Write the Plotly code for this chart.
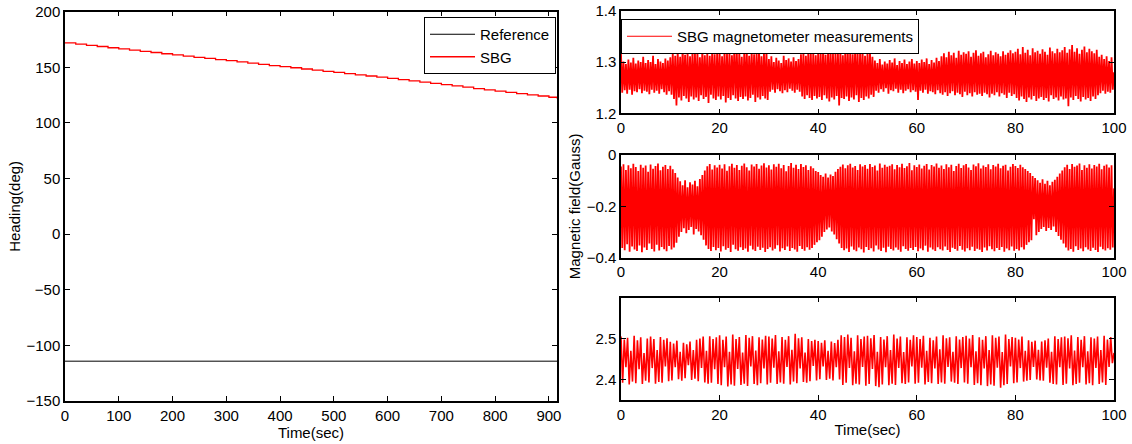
import numpy as np
import plotly.graph_objects as go

# ---------------- data ----------------
heading_time = [0, 20, 40, 60, 80, 100, 120, 140, 160, 180, 200, 220, 240, 260, 280, 300,
                320, 340, 360, 380, 400, 420, 440, 460, 480, 500, 520, 540, 560, 580, 600,
                620, 640, 660, 680, 700, 720, 740, 760, 780, 800, 820, 840, 860, 880, 900, 915]
heading_sbg = [172.0, 170.9, 169.8, 168.7, 167.6, 166.6, 165.5, 164.4, 163.3, 162.2, 161.1,
               160.1, 159.0, 158.0, 157.0, 156.0, 154.9, 153.8, 152.7, 151.6, 150.6, 149.6,
               148.5, 147.5, 146.4, 145.4, 144.3, 143.2, 142.2, 141.1, 140.0, 138.9, 137.8,
               136.7, 135.6, 134.5, 133.3, 132.1, 130.9, 129.7, 128.6, 127.5, 126.4, 125.3,
               124.2, 123.1, 122.0]
reference_time = [0, 915]
reference_heading = [-114.2, -114.2]

# magnetometer X (samples every 0.25 s, 0..100 s)
mag_x = [
    1.316, 1.240, 1.301, 1.245, 1.296, 1.238, 1.305, 1.246, 1.299, 1.236, 1.308, 1.243, 1.297, 1.241, 1.303, 1.247, 1.300, 1.239, 1.310, 1.244,
    1.298, 1.242, 1.304, 1.237, 1.300, 1.246, 1.312, 1.240, 1.296, 1.244, 1.306, 1.238, 1.301, 1.247, 1.298, 1.241, 1.307, 1.236, 1.303, 1.243,
    1.309, 1.236, 1.318, 1.228, 1.312, 1.215, 1.322, 1.231, 1.310, 1.225, 1.329, 1.234, 1.314, 1.229, 1.320, 1.222, 1.311, 1.233, 1.324, 1.227,
    1.316, 1.231, 1.321, 1.224, 1.309, 1.235, 1.326, 1.228, 1.313, 1.232, 1.319, 1.220, 1.312, 1.236, 1.323, 1.229, 1.315, 1.226, 1.318, 1.233,
    1.322, 1.227, 1.311, 1.234, 1.325, 1.221, 1.316, 1.230, 1.320, 1.226, 1.313, 1.235, 1.334, 1.229, 1.317, 1.224, 1.321, 1.232, 1.310, 1.228,
    1.319, 1.233, 1.326, 1.225, 1.312, 1.230, 1.323, 1.236, 1.315, 1.222, 1.320, 1.231, 1.327, 1.227, 1.311, 1.234, 1.318, 1.229, 1.324, 1.226,
    1.306, 1.242, 1.311, 1.246, 1.300, 1.240, 1.308, 1.247, 1.303, 1.243, 1.298, 1.239, 1.312, 1.245, 1.304, 1.241, 1.307, 1.248, 1.301, 1.244,
    1.309, 1.240, 1.302, 1.246, 1.306, 1.242, 1.315, 1.233, 1.320, 1.228, 1.312, 1.235, 1.324, 1.230, 1.316, 1.226, 1.319, 1.234, 1.313, 1.229,
    1.322, 1.232, 1.317, 1.226, 1.326, 1.235, 1.314, 1.229, 1.320, 1.223, 1.328, 1.231, 1.316, 1.227, 1.321, 1.234, 1.318, 1.215, 1.325, 1.230,
    1.313, 1.228, 1.327, 1.233, 1.319, 1.224, 1.322, 1.231, 1.315, 1.227, 1.329, 1.235, 1.317, 1.222, 1.320, 1.230, 1.324, 1.226, 1.312, 1.233,
    1.318, 1.229, 1.322, 1.236, 1.310, 1.232, 1.303, 1.244, 1.298, 1.240, 1.306, 1.247, 1.295, 1.242, 1.301, 1.249, 1.297, 1.238, 1.304, 1.245,
    1.299, 1.243, 1.307, 1.248, 1.294, 1.240, 1.302, 1.246, 1.298, 1.239, 1.305, 1.244, 1.296, 1.247, 1.301, 1.241, 1.306, 1.245, 1.297, 1.242,
    1.302, 1.226, 1.298, 1.244, 1.305, 1.240, 1.300, 1.246, 1.307, 1.238, 1.296, 1.243, 1.304, 1.241, 1.299, 1.237, 1.308, 1.245, 1.302, 1.239,
    1.311, 1.236, 1.317, 1.241, 1.309, 1.234, 1.320, 1.239, 1.313, 1.243, 1.318, 1.235, 1.308, 1.240, 1.322, 1.237, 1.314, 1.232, 1.319, 1.242,
    1.316, 1.235, 1.321, 1.239, 1.310, 1.233, 1.318, 1.241, 1.323, 1.236, 1.312, 1.238, 1.317, 1.234, 1.320, 1.240, 1.309, 1.237, 1.315, 1.231,
    1.322, 1.238, 1.313, 1.235, 1.319, 1.241, 1.316, 1.233, 1.311, 1.239, 1.321, 1.236, 1.314, 1.230, 1.318, 1.240, 1.323, 1.234, 1.317, 1.237,
    1.320, 1.230, 1.326, 1.225, 1.315, 1.233, 1.329, 1.228, 1.318, 1.222, 1.324, 1.231, 1.313, 1.227, 1.327, 1.234, 1.319, 1.224, 1.322, 1.229,
    1.316, 1.232, 1.325, 1.226, 1.320, 1.230, 1.314, 1.223, 1.328, 1.235, 1.321, 1.228, 1.317, 1.231, 1.326, 1.225, 1.319, 1.233, 1.323, 1.227,
    1.329, 1.229, 1.318, 1.214, 1.325, 1.231, 1.333, 1.226, 1.320, 1.234, 1.327, 1.228, 1.316, 1.223, 1.324, 1.232, 1.330, 1.227, 1.319, 1.230,
    1.326, 1.224, 1.321, 1.233, 1.317, 1.228, 1.324, 1.235, 1.310, 1.239, 1.314, 1.244, 1.306, 1.238, 1.311, 1.242, 1.302, 1.240, 1.309, 1.246,
    1.280]

# magnetometer Y (samples every 0.25 s, 0..100 s)
mag_y = [
    -0.045, -0.362, -0.036, -0.371, -0.058, -0.348, -0.040, -0.377, -0.052, -0.356, -0.034, -0.368, -0.047, -0.374, -0.062, -0.352, -0.038, -0.379, -0.050, -0.360,
    -0.041, -0.370, -0.065, -0.345, -0.037, -0.366, -0.054, -0.376, -0.043, -0.350, -0.033, -0.372, -0.059, -0.358, -0.046, -0.367, -0.039, -0.375, -0.055, -0.354,
    -0.042, -0.368, -0.056, -0.360, -0.070, -0.342, -0.088, -0.318, -0.102, -0.300, -0.118, -0.285, -0.098, -0.305, -0.126, -0.292, -0.106, -0.280, -0.115, -0.310,
    -0.100, -0.288, -0.122, -0.298, -0.094, -0.312, -0.078, -0.330, -0.060, -0.352, -0.044, -0.366, -0.035, -0.374, -0.057, -0.358, -0.040, -0.371, -0.049, -0.362,
    -0.038, -0.376, -0.053, -0.355, -0.036, -0.369, -0.061, -0.362, -0.044, -0.378, -0.034, -0.350, -0.050, -0.367, -0.039, -0.373, -0.058, -0.359, -0.042, -0.370,
    -0.033, -0.364, -0.048, -0.377, -0.060, -0.353, -0.037, -0.368, -0.045, -0.374, -0.035, -0.357, -0.054, -0.370, -0.041, -0.361, -0.032, -0.378, -0.049, -0.366,
    -0.040, -0.359, -0.057, -0.372, -0.036, -0.365, -0.046, -0.351, -0.034, -0.376, -0.052, -0.363, -0.039, -0.370, -0.063, -0.356, -0.043, -0.374, -0.031, -0.362,
    -0.050, -0.368, -0.038, -0.377, -0.055, -0.354, -0.035, -0.366, -0.047, -0.373, -0.040, -0.359, -0.058, -0.369, -0.044, -0.362, -0.052, -0.350, -0.062, -0.340,
    -0.066, -0.332, -0.078, -0.318, -0.085, -0.300, -0.072, -0.290, -0.088, -0.282, -0.076, -0.298, -0.082, -0.310, -0.065, -0.328, -0.055, -0.345, -0.046, -0.362,
    -0.037, -0.371, -0.052, -0.364, -0.040, -0.378, -0.034, -0.356, -0.049, -0.369, -0.043, -0.375, -0.058, -0.360, -0.036, -0.367, -0.045, -0.380, -0.039, -0.358,
    -0.054, -0.370, -0.035, -0.363, -0.047, -0.376, -0.041, -0.352, -0.060, -0.368, -0.033, -0.374, -0.050, -0.361, -0.038, -0.379, -0.046, -0.357, -0.042, -0.366,
    -0.036, -0.372, -0.056, -0.360, -0.039, -0.369, -0.048, -0.377, -0.034, -0.355, -0.051, -0.366, -0.044, -0.373, -0.031, -0.362, -0.059, -0.370, -0.040, -0.358,
    -0.047, -0.375, -0.037, -0.364, -0.053, -0.371, -0.042, -0.353, -0.035, -0.377, -0.057, -0.360, -0.039, -0.368, -0.045, -0.374, -0.033, -0.359, -0.050, -0.367,
    -0.041, -0.372, -0.055, -0.356, -0.036, -0.370, -0.048, -0.378, -0.038, -0.361, -0.062, -0.366, -0.043, -0.373, -0.034, -0.354, -0.051, -0.369, -0.040, -0.376,
    -0.035, -0.363, -0.049, -0.371, -0.058, -0.357, -0.037, -0.374, -0.044, -0.365, -0.032, -0.369, -0.053, -0.378, -0.041, -0.360, -0.047, -0.372, -0.036, -0.355,
    -0.056, -0.367, -0.039, -0.375, -0.045, -0.362, -0.034, -0.370, -0.052, -0.358, -0.042, -0.377, -0.038, -0.364, -0.060, -0.371, -0.046, -0.356, -0.035, -0.373,
    -0.043, -0.366, -0.051, -0.372, -0.038, -0.359, -0.048, -0.368, -0.055, -0.350, -0.062, -0.340, -0.070, -0.332, -0.082, -0.250, -0.090, -0.312, -0.098, -0.300,
    -0.108, -0.288, -0.095, -0.280, -0.112, -0.296, -0.100, -0.284, -0.118, -0.292, -0.104, -0.278, -0.096, -0.300, -0.085, -0.315, -0.072, -0.330, -0.060, -0.345,
    -0.048, -0.360, -0.038, -0.372, -0.055, -0.366, -0.035, -0.377, -0.046, -0.355, -0.041, -0.370, -0.033, -0.364, -0.058, -0.375, -0.040, -0.359, -0.050, -0.368,
    -0.036, -0.374, -0.053, -0.361, -0.039, -0.370, -0.045, -0.378, -0.034, -0.357, -0.056, -0.367, -0.042, -0.372, -0.037, -0.363, -0.049, -0.369, -0.040, -0.360,
    -0.130]

# magnetometer Z (samples every 1/3 s, 0..100 s)
mag_z = [
    2.505, 2.392, 2.498, 2.430, 2.502, 2.388, 2.470, 2.395, 2.507, 2.391, 2.496, 2.425, 2.503, 2.389, 2.465, 2.397, 2.500, 2.393, 2.505, 2.428, 2.499, 2.390, 2.472, 2.394, 2.504, 2.392, 2.497, 2.432, 2.501, 2.396,
    2.492, 2.398, 2.488, 2.430, 2.495, 2.401, 2.468, 2.397, 2.490, 2.403, 2.486, 2.435, 2.493, 2.399, 2.472, 2.402, 2.497, 2.396, 2.500, 2.428, 2.505, 2.393, 2.470, 2.390, 2.506, 2.392, 2.499, 2.425, 2.503, 2.389,
    2.508, 2.386, 2.497, 2.430, 2.505, 2.383, 2.468, 2.388, 2.510, 2.385, 2.499, 2.426, 2.504, 2.387, 2.466, 2.390, 2.509, 2.384, 2.502, 2.432, 2.506, 2.389, 2.471, 2.386, 2.503, 2.391, 2.498, 2.427, 2.507, 2.388,
    2.505, 2.392, 2.500, 2.429, 2.509, 2.389, 2.469, 2.393, 2.504, 2.390, 2.497, 2.431, 2.506, 2.388, 2.473, 2.395, 2.512, 2.391, 2.501, 2.427, 2.503, 2.394, 2.466, 2.392, 2.499, 2.396, 2.494, 2.433, 2.497, 2.398,
    2.494, 2.401, 2.490, 2.432, 2.496, 2.399, 2.470, 2.402, 2.493, 2.398, 2.489, 2.430, 2.497, 2.400, 2.508, 2.387, 2.504, 2.392, 2.510, 2.428, 2.502, 2.386, 2.469, 2.390, 2.508, 2.388, 2.499, 2.431, 2.505, 2.385,
    2.507, 2.389, 2.501, 2.426, 2.509, 2.384, 2.468, 2.381, 2.504, 2.388, 2.498, 2.430, 2.506, 2.386, 2.472, 2.390, 2.510, 2.387, 2.500, 2.428, 2.505, 2.391, 2.467, 2.389, 2.503, 2.393, 2.497, 2.432, 2.508, 2.390,
    2.504, 2.392, 2.499, 2.429, 2.507, 2.388, 2.470, 2.394, 2.502, 2.391, 2.496, 2.427, 2.505, 2.389, 2.474, 2.393, 2.508, 2.390, 2.501, 2.431, 2.503, 2.395, 2.468, 2.392, 2.506, 2.389, 2.498, 2.428, 2.504, 2.393,
    2.507, 2.390, 2.500, 2.430, 2.509, 2.387, 2.469, 2.391, 2.503, 2.386, 2.497, 2.427, 2.506, 2.384, 2.472, 2.388, 2.508, 2.385, 2.502, 2.429, 2.505, 2.380, 2.467, 2.386, 2.510, 2.389, 2.499, 2.432, 2.504, 2.391,
    2.502, 2.393, 2.498, 2.428, 2.505, 2.395, 2.470, 2.397, 2.496, 2.399, 2.492, 2.431, 2.495, 2.400, 2.473, 2.398, 2.493, 2.397, 2.496, 2.429, 2.500, 2.392, 2.468, 2.389, 2.506, 2.388, 2.499, 2.430, 2.503, 2.387,
    2.505, 2.390, 2.501, 2.427, 2.508, 2.386, 2.471, 2.389, 2.504, 2.392, 2.497, 2.430, 2.506, 2.388, 2.469, 2.391, 2.503, 2.386, 2.500, 2.428, 2.505, 2.389, 2.472, 2.393, 2.507, 2.387, 2.498, 2.431, 2.504, 2.440,
    2.465]

mag_duration = 100.0
t_x = np.linspace(0, mag_duration, len(mag_x))
t_y = np.linspace(0, mag_duration, len(mag_y))
t_z = np.linspace(0, mag_duration, len(mag_z))

# ---------------- figure ----------------
W, H = 1132, 444
FONT = "Liberation Sans, Arial, sans-serif"
RED = "#ff0000"

fig = go.Figure()

fig.add_trace(go.Scatter(x=reference_time, y=reference_heading, mode="lines", name="Reference",
                         line=dict(color="black", width=1), xaxis="x", yaxis="y", legend="legend"))
fig.add_trace(go.Scatter(x=heading_time, y=heading_sbg, mode="lines", name="SBG", line_shape="hv",
                         line=dict(color=RED, width=1.3), xaxis="x", yaxis="y", legend="legend"))

fig.add_trace(go.Scatter(x=t_x, y=mag_x, mode="lines", showlegend=False,
                         line=dict(color=RED, width=1.8), xaxis="x2", yaxis="y2"))
# legend entry (thin line sample, like the original legend)
fig.add_trace(go.Scatter(x=[None], y=[None], mode="lines", name="SBG magnetometer measurements",
                         line=dict(color=RED, width=1), xaxis="x2", yaxis="y2", legend="legend2"))
fig.add_trace(go.Scatter(x=t_y, y=mag_y, mode="lines", showlegend=False,
                         line=dict(color=RED, width=1.8), xaxis="x3", yaxis="y3"))
fig.add_trace(go.Scatter(x=t_z, y=mag_z, mode="lines", showlegend=False,
                         line=dict(color=RED, width=1.6), xaxis="x4", yaxis="y4"))


def ax(**kw):
    d = dict(showline=True, linecolor="black", linewidth=1.5, mirror="ticks",
             ticks="inside", ticklen=5, tickwidth=1, tickcolor="black",
             showgrid=False, zeroline=False, automargin=False,
             tickfont=dict(family=FONT, size=15, color="black"))
    d.update(kw)
    return d


def px_x(p):
    return p / W


def px_y(p):
    return 1 - p / H


left_dom = [px_x(65), px_x(557)]
right_dom = [px_x(621), px_x(1114)]
r1 = [px_y(113.3), px_y(10.7)]
r2 = [px_y(257.7), px_y(155)]
r3 = [px_y(400), px_y(297.7)]
l1 = [px_y(401), px_y(11.7)]

fig.update_layout(
    width=W, height=H,
    margin=dict(l=0, r=0, t=0, b=0),
    paper_bgcolor="white", plot_bgcolor="white",
    font=dict(family=FONT, size=15, color="black"),
    xaxis=ax(domain=left_dom, anchor="y", range=[0, 915], tickvals=list(range(0, 901, 100)),
             title=dict(text="Time(sec)", standoff=3, font=dict(size=15))),
    yaxis=ax(domain=l1, anchor="x", range=[-150, 200], tickvals=list(range(-150, 201, 50)),
             title=dict(text="Heading(deg)", standoff=2, font=dict(size=15))),
    xaxis2=ax(domain=right_dom, anchor="y2", range=[0, 100], tickvals=list(range(0, 101, 20))),
    yaxis2=ax(domain=r1, anchor="x2", range=[1.2, 1.4], tickvals=[1.2, 1.3, 1.4]),
    xaxis3=ax(domain=right_dom, anchor="y3", range=[0, 100], tickvals=list(range(0, 101, 20))),
    yaxis3=ax(domain=r2, anchor="x3", range=[-0.4, 0], tickvals=[-0.4, -0.2, 0],
              title=dict(text="Magnetic field(Gauss)", standoff=2, font=dict(size=15))),
    xaxis4=ax(domain=right_dom, anchor="y4", range=[0, 100], tickvals=list(range(0, 101, 20)),
              title=dict(text="Time(sec)", standoff=3, font=dict(size=15))),
    yaxis4=ax(domain=r3, anchor="x4", range=[2.35, 2.6], tickvals=[2.4, 2.5]),
    legend=dict(x=px_x(556), xanchor="right", y=px_y(17), yanchor="top",
                bgcolor="white", bordercolor="black", borderwidth=1, itemwidth=45,
                font=dict(family=FONT, size=15, color="black"), tracegroupgap=0),
    legend2=dict(x=px_x(621), xanchor="left", y=px_y(19), yanchor="top",
                 bgcolor="white", bordercolor="black", borderwidth=1, itemwidth=45,
                 font=dict(family=FONT, size=15, color="black")),
    showlegend=True,
)

fig.write_html("out.html")
